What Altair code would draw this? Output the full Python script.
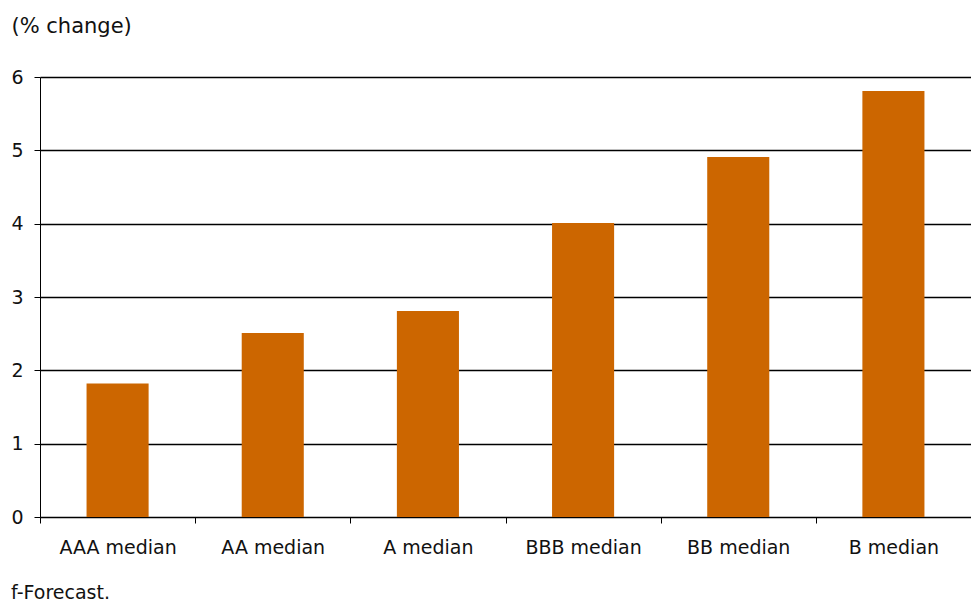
import altair as alt
import pandas as pd

categories = ["AAA median", "AA median", "A median", "BBB median", "BB median", "B median"]
values = [1.82, 2.51, 2.81, 4.01, 4.91, 5.81]
y_ticks = [0, 1, 2, 3, 4, 5, 6]
y_title = "(% change)"
footnote = "f-Forecast."

df = pd.DataFrame({"category": categories, "value": values})
note_df = pd.DataFrame({"text": [footnote]})

FONT = "DejaVu Sans"
TXT = "#111111"

bars = alt.Chart(df).mark_bar(color="#CC6600", width={"band": 0.4}).encode(
    x=alt.X("category:N", sort=categories, title=None,
            scale=alt.Scale(paddingInner=0, paddingOuter=0),
            axis=alt.Axis(tickBand="extent", labelAngle=0, grid=False,
                          domainColor="#000", tickColor="#000", tickSize=6,
                          labelPadding=15, labelFontSize=19, labelColor=TXT,
                          labelFont=FONT)),
    y=alt.Y("value:Q", scale=alt.Scale(domain=[0, 6], nice=False),
            axis=alt.Axis(values=y_ticks, title=y_title, titleAngle=0,
                          titleAlign="left", titleBaseline="middle",
                          titleX=-29, titleY=-51, titleFontWeight="normal",
                          titleFontSize=21, titleFont=FONT, titleColor=TXT,
                          labelFontSize=19, labelFont=FONT, labelColor=TXT,
                          labelPadding=11, tickSize=6, tickColor="#000",
                          domainColor="#000", gridColor="#000",
                          gridWidth=1.5, gridOpacity=1)),
)

note = alt.Chart(note_df).mark_text(
    align="left", baseline="middle", fontSize=19, font=FONT, color=TXT
).encode(x=alt.value(-29), y=alt.value(516), text="text:N")

chart = alt.layer(bars, note).properties(
    width=931, height=440,
    autosize=alt.AutoSizeParams(type="none"),
    padding={"left": 40, "top": 77, "right": 0, "bottom": 90},
    background="white",
).configure_view(stroke=None)

chart.save("out.html", embed_options={"renderer": "svg", "actions": False})
